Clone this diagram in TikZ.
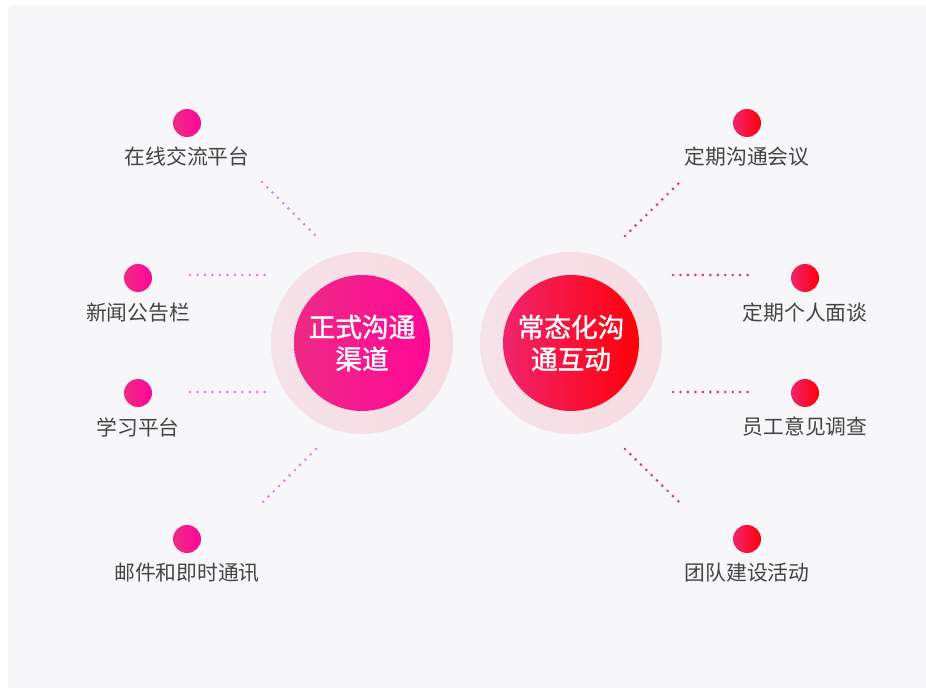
\documentclass[tikz,border=0pt]{standalone}
\usepackage{fontspec}
\setmainfont{Noto Sans CJK SC}
\newfontfamily\hubfont[FakeBold=1.3]{Noto Sans CJK SC}
\usetikzlibrary{positioning}

\definecolor{bgcol}{HTML}{F7F7FA}
\definecolor{ringL}{HTML}{F6E2E9}
\definecolor{ringR}{HTML}{F6DCE2}
\definecolor{pinkL}{HTML}{EE2A86}
\definecolor{pinkR}{HTML}{FF0896}
\definecolor{redL}{HTML}{F0246E}
\definecolor{redR}{HTML}{FF0008}
\definecolor{lblcol}{HTML}{444444}
\definecolor{dotpink}{HTML}{F07ADC}
\definecolor{dotred}{HTML}{E8306A}

\begin{document}
\begin{tikzpicture}[x=0.75pt,y=-0.75pt,
    ring/.style={circle,minimum size=136.5pt,inner sep=0pt,left color=ringL,right color=ringR},
    hub/.style={circle,minimum size=102pt,inner sep=0pt,text=white,align=center,
        font=\hubfont\fontsize{20}{24}\selectfont},
    lbl/.style={text=lblcol,font=\fontsize{15.6}{18}\selectfont,inner sep=0pt}]
    \tikzstyle{bullet}=[circle,minimum size=21pt,inner sep=0pt]
    \tikzstyle{dots}=[line width=2.2pt,line cap=round,dash pattern=on 0pt off 5.6pt]

    \useasboundingbox (0,0) rectangle (926,688);
    \fill[bgcol,rounded corners=4pt] (8,5) rectangle (930,692);

    % two hubs
    \node[ring] (formalring) at (362,343) {};
    \node[hub,left color=pinkL,right color=pinkR] (formal) at (362,343) {正式沟通\\渠道};
    \node[ring] (dailyring) at (571,343) {};
    \node[hub,left color=redL,right color=redR] (daily) at (571,343) {常态化沟\\通互动};

    % left side
    \node[bullet,left color=pinkL,right color=pinkR] (online) at (187,123) {};
    \node[lbl] (onlinetxt) at (187,157) {在线交流平台};
    \node[bullet,left color=pinkL,right color=pinkR] (news) at (138,278) {};
    \node[lbl] (newstxt) at (138,313) {新闻公告栏};
    \node[bullet,left color=pinkL,right color=pinkR] (learn) at (138,393) {};
    \node[lbl] (learntxt) at (138,427) {学习平台};
    \node[bullet,left color=pinkL,right color=pinkR] (mail) at (187,539) {};
    \node[lbl] (mailtxt) at (187,573) {邮件和即时通讯};

    % right side
    \node[bullet,left color=redL,right color=redR] (meet) at (747,123) {};
    \node[lbl] (meettxt) at (747,157) {定期沟通会议};
    \node[bullet,left color=redL,right color=redR] (talk) at (805,278) {};
    \node[lbl] (talktxt) at (805,313) {定期个人面谈};
    \node[bullet,left color=redL,right color=redR] (survey) at (805,393) {};
    \node[lbl] (surveytxt) at (805,427) {员工意见调查};
    \node[bullet,left color=redL,right color=redR] (team) at (747,539) {};
    \node[lbl] (teamtxt) at (747,573) {团队建设活动};

    % dotted connectors
    \coordinate (l1a) at (262,182); \coordinate (l1b) at (316,236);
    \coordinate (l2a) at (190,275); \coordinate (l2b) at (268,275);
    \coordinate (l3a) at (190,392); \coordinate (l3b) at (268,392);
    \coordinate (l4a) at (316,449); \coordinate (l4b) at (262,503);
    \coordinate (r1a) at (625,236); \coordinate (r1b) at (680,182);
    \coordinate (r2a) at (673,275); \coordinate (r2b) at (752,275);
    \coordinate (r3a) at (673,392); \coordinate (r3b) at (752,392);
    \coordinate (r4a) at (625,449); \coordinate (r4b) at (680,503);

    \draw[dots,dotpink] (l1a) -- (l1b);
    \draw[dots,dotpink] (l2a) -- (l2b);
    \draw[dots,dotpink] (l3a) -- (l3b);
    \draw[dots,dotpink] (l4a) -- (l4b);
    \draw[dots,dotred] (r1a) -- (r1b);
    \draw[dots,dotred] (r2a) -- (r2b);
    \draw[dots,dotred] (r3a) -- (r3b);
    \draw[dots,dotred] (r4a) -- (r4b);

\end{tikzpicture}
\end{document}
